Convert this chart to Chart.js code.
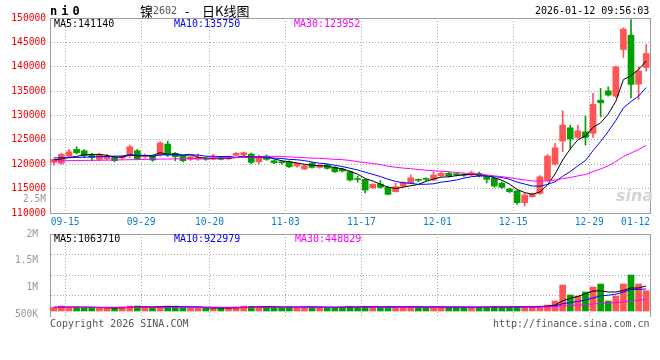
<!DOCTYPE html>
<html><head><meta charset="utf-8">
<script src="https://cdn.jsdelivr.net/npm/chart.js"></script>
<style>
html,body{margin:0;padding:0;background:#fff;}
#wrap{position:relative;width:660px;height:360px;overflow:hidden;background:#fff;font-family:'DejaVu Sans Mono',monospace;font-size:10px;}
canvas{position:absolute;left:0;}
#cp{top:0;}
#cv{top:222px;}
.t{position:absolute;white-space:pre;line-height:12px;}
</style></head>
<body><div id="wrap">
<canvas id="cp" width="660" height="232"></canvas>
<canvas id="cv" width="660" height="138"></canvas>
<div class="t" style="left:50px;top:5px;font-weight:bold;font-size:12px;line-height:13px;letter-spacing:4px;color:#000">ni0</div>
<div class="t" style="left:140px;top:3px;font-family:'Noto Sans CJK SC';font-size:13px;line-height:15px;color:#000">镍</div>
<div class="t" style="left:153px;top:5px;color:#555">2602</div>
<div class="t" style="left:185px;top:3px;font-family:'Noto Sans CJK SC';font-size:13px;line-height:15px;color:#000">-</div>
<div class="t" style="left:202px;top:3px;font-family:'Noto Sans CJK SC';font-size:13px;line-height:15px;color:#000">日K线图</div>
<div class="t" style="left:535px;top:5px;color:#000">2026-01-12 09:56:03</div>
<div class="t" style="left:54px;top:18px;color:#000">MA5:141140</div>
<div class="t" style="left:174px;top:18px;color:#0000ff">MA10:135750</div>
<div class="t" style="left:294px;top:18px;color:#ff00ff">MA30:123952</div>
<div class="t" style="left:54px;top:233px;color:#000">MA5:1063710</div>
<div class="t" style="left:174px;top:233px;color:#0000ff">MA10:922979</div>
<div class="t" style="left:295px;top:233px;color:#ff00ff">MA30:448829</div>
<div class="t" style="left:50px;top:318px;color:#555">Copyright 2026 SINA.COM</div>
<div class="t" style="left:493px;top:318px;color:#555">http://finance.sina.com.cn</div>
<div class="t" style="left:616px;top:187px;font-family:'DejaVu Sans';font-style:italic;font-weight:bold;font-size:16px;line-height:18px;color:#d4d4d4">sina</div>
</div>
<script>
const DATES = ['09-12','09-15','09-16','09-17','09-18','09-19','09-22','09-23','09-24','09-25','09-26','09-29','09-30',
'10-09','10-10','10-13','10-14','10-15','10-16','10-17','10-20','10-21','10-22','10-23','10-24','10-27','10-28','10-29','10-30','10-31',
'11-03','11-04','11-05','11-06','11-07','11-10','11-11','11-12','11-13','11-14','11-17','11-18','11-19','11-20','11-21','11-24','11-25','11-26','11-27','11-28',
'12-01','12-02','12-03','12-04','12-05','12-08','12-09','12-10','12-11','12-12','12-15','12-16','12-17','12-18','12-19','12-22','12-23','12-24','12-25','12-26','12-29','12-30','12-31',
'01-05','01-06','01-07','01-08','01-09','01-12'];

const OPEN = [120390,120180,121680,123050,122770,121880,121000,121130,121410,121270,
121740,122770,121540,121680,121880,124140,122230,121680,121000,121000,
121270,121000,121300,121100,121820,121950,122090,120510,121680,120720,
120350,120510,119630,119020,120180,119360,119840,119360,119020,118460,
116960,116900,115180,115940,115270,114360,115530,116210,116800,117000,
116760,117640,118130,117950,117800,117790,118130,117440,117110,116090,
114920,114510,112110,113340,114040,116760,120040,124750,127480,125510,
126660,126330,133150,135060,133970,143540,146470,136430,139850];
const HIGH = [121100,122300,123050,123600,123050,122230,122300,122030,121700,121700,
123930,123050,122100,121900,124600,124750,122400,121900,121700,122090,
121400,122030,121500,121600,122400,122500,122300,121880,121900,120900,
120700,120700,120300,119900,120400,119900,120000,119500,119200,118600,
117600,117000,116000,116660,115400,116090,116400,117850,117000,117200,
118460,118400,118400,118200,118100,118600,118400,117600,117300,116400,
115100,114600,114040,114100,117700,122000,124280,130960,128030,128030,
129880,134530,135550,135880,140200,148000,149690,139980,144570];
const LOW = [119840,119980,121400,122090,121400,120720,120700,120900,120500,121000,
121400,120900,121300,120600,121700,121600,120700,120500,120800,120800,
120800,120900,120900,120900,121700,121800,120100,120000,120800,120100,
120000,119300,119400,118900,119200,119200,119000,118300,118400,116600,
116300,114100,115000,115100,113700,114300,115300,116000,116400,116700,
116600,117500,117400,117600,117500,117600,117400,116150,115300,115000,
114200,111780,111430,113200,113800,116500,119800,122560,123050,125310,
123930,125510,129730,133970,133700,141900,133630,133300,139100];
const CLOSE = [121000,122030,122560,122360,121740,121410,122030,121540,120720,121540,
123590,121130,121880,120860,124400,121880,121540,120720,121540,121410,
121000,121340,121000,121400,122230,122360,120390,121540,121000,120310,
120300,119490,120180,119690,119360,119770,119160,118460,118610,116760,
116860,114710,115880,115270,113830,115390,116210,117230,116700,116900,
117790,118130,117640,117850,117750,118260,117640,116900,115530,115270,
114360,112110,113690,113830,117440,121680,123380,128030,125160,126860,
125510,132330,132600,134180,139980,147700,136370,139100,142720];

const MA5 = [120860,121100,121400,121600,121940,122020,122020,121820,121490,121450,
121880,121700,121770,121800,122370,122030,122110,121880,122020,121420,
121240,121200,121260,121230,121390,121670,121480,121580,121500,121120,
120710,120530,120260,119990,119800,119700,119630,119290,119070,118550,
117970,117080,116560,115900,115310,115020,115320,115590,115870,116490,
116970,117350,117430,117660,117830,117930,117830,117680,117220,116720,
115940,114830,114190,113850,114290,115750,118000,120870,123140,125020,
125790,127580,128490,130300,132920,137360,138170,139470,141170];
const MA10 = [121300,121320,121350,121400,121450,121500,121550,121600,121650,121690,
121950,121860,121790,121640,121910,121960,121910,121830,121910,121900,
121640,121660,121570,121620,121410,121450,121340,121420,121370,121260,
121190,121000,120920,120750,120460,120200,120080,119770,119530,119180,
118830,118360,117930,117480,116930,116490,116200,116080,115880,115900,
115990,116330,116510,116770,117160,117450,117590,117560,117440,117280,
116930,116330,115940,115530,115500,115850,116420,117530,118500,119660,
120770,122790,124680,126720,128970,131570,132870,133980,135740];
const MA30 = [120700,120720,120740,120760,120780,120800,120820,120850,120880,120900,
120930,120960,120990,121020,121050,121080,121110,121140,121170,121200,
121230,121260,121290,121320,121350,121400,121450,121500,121560,121620,
121590,121510,121430,121340,121260,121210,121110,121010,120940,120780,
120550,120340,120140,119950,119600,119380,119210,119090,118930,118780,
118670,118560,118450,118330,118180,118050,117960,117800,117620,117450,
117250,117010,116790,116600,116530,116600,116740,117050,117270,117610,
117900,118490,119040,119670,120550,121620,122290,123020,123890];

const VOLUME = [150000,210000,170000,170000,130000,130000,140000,120000,120000,170000,
210000,210000,170000,130000,190000,210000,210000,130000,130000,130000,
120000,130000,130000,120000,170000,210000,200000,180000,170000,150000,
150000,170000,160000,170000,170000,160000,130000,160000,170000,200000,
170000,190000,170000,160000,190000,170000,170000,180000,160000,160000,
170000,170000,160000,160000,160000,160000,160000,170000,200000,170000,
170000,200000,190000,170000,212000,255000,425000,1104000,679000,637000,
807000,1019000,1146000,425000,637000,1146000,1528000,1146000,862000];
const VOL_MA5 = [160000,160000,165000,165000,166000,162000,148000,138000,128000,136000,
152000,166000,176000,178000,182000,182000,182000,174000,174000,162000,
144000,128000,128000,126000,134000,152000,166000,176000,186000,182000,
170000,164000,160000,160000,164000,166000,158000,158000,158000,164000,
166000,178000,180000,178000,176000,176000,172000,174000,174000,168000,
168000,168000,164000,164000,164000,162000,160000,162000,170000,172000,
174000,182000,186000,180000,188000,205000,250000,433000,535000,620000,
730000,849000,858000,807000,807000,875000,976000,976000,1064000];
const VOL_MA10 = [155000,155000,155000,155000,155000,155000,155000,155000,155000,151000,
157000,157000,157000,153000,159000,167000,174000,175000,176000,172000,
163000,155000,151000,150000,148000,148000,147000,152000,156000,158000,
161000,165000,168000,173000,173000,168000,161000,159000,159000,164000,
166000,168000,169000,168000,170000,171000,175000,177000,176000,172000,
172000,170000,169000,169000,166000,165000,164000,163000,167000,168000,
168000,171000,174000,175000,180000,190000,216000,310000,358000,404000,
468000,550000,645000,671000,713000,803000,913000,917000,935000];
const VOL_MA30 = [155000,155000,155000,155000,155000,155000,155000,155000,156000,156000,
156000,156000,157000,157000,157000,157000,158000,158000,158000,158000,
158000,158000,159000,159000,159000,159000,159000,160000,160000,160000,
160000,159000,159000,159000,160000,161000,161000,162000,164000,165000,
163000,163000,163000,164000,164000,162000,161000,163000,164000,165000,
166000,168000,169000,170000,170000,168000,167000,166000,167000,168000,
169000,170000,171000,171000,172000,175000,185000,217000,234000,248000,
269000,297000,329000,338000,353000,386000,431000,463000,487000];

const PRICE_TICKS = [110000,115000,120000,125000,130000,135000,140000,145000,150000];
const X_TICK_LABELS = ['09-15','09-29','10-20','11-03','11-17','12-01','12-15','12-29','01-12'];
const VOL_TICK_VALUES = [500000,1000000,1500000,2000000,2500000];
const VOL_TICK_LABELS = ['500K','1M','1.5M','2M','2.5M'];

Chart.defaults.font.family = "'DejaVu Sans Mono', monospace";
Chart.defaults.font.size = 10;
Chart.defaults.animation = false;

const RED = '#ff5555', GREEN = '#00a000';
const GRID = '#a8a8a8', AXIS = '#9c9c9c';
const TICK_FONT = {family: "'DejaVu Sans Mono', monospace", size: 9.6};
const barColor = OPEN.map((o, i) => CLOSE[i] >= o ? RED : GREEN);
const X_MIN = -0.5, X_MAX = DATES.length - 0.5;
const xTickValues = [X_MIN].concat(X_TICK_LABELS.map(l => DATES.indexOf(l) + 0.5));

function gridColor(ctx) {
  if (!ctx.tick) return GRID;
  const s = ctx.scale, v = ctx.tick.value;
  return (Math.abs(v - s.min) < 1e-6 || Math.abs(v - s.max) < 1e-6) ? 'rgba(0,0,0,0)' : GRID;
}
function xLabel(v) {
  const i = xTickValues.indexOf(v);
  return i > 0 ? X_TICK_LABELS[i - 1] : '';
}
function volLabel(v) {
  const i = VOL_TICK_VALUES.indexOf(v);
  return i >= 0 ? VOL_TICK_LABELS[i] : '';
}
function volTicksInRange(s) {
  s.ticks = VOL_TICK_VALUES.filter(v => v >= s.min && v <= s.max).map(v => ({value: v}));
}
const pts = arr => arr.map((v, i) => ({x: i, y: v}));
const line = (arr, color, order) => ({type: 'line', data: pts(arr), borderColor: color, borderWidth: 1,
  pointRadius: 0, tension: 0, fill: false, order: order, xAxisID: 'x', yAxisID: 'y'});

const xAxis = (showLabels) => ({
  type: 'linear', position: 'bottom', min: X_MIN, max: X_MAX, offset: false,
  grid: {offset: false, color: gridColor, drawTicks: false, lineWidth: 1},
  border: {display: showLabels, color: AXIS, dash: [1, 2]},
  ticks: {display: showLabels, autoSkip: false, align: 'inner', padding: 4, maxRotation: 0,
    color: '#0a7fd0', font: TICK_FONT, callback: xLabel},
  afterBuildTicks: s => { s.ticks = xTickValues.map(v => ({value: v})); },
  afterFit: s => { s.height = showLabels ? 19 : 0; }
});
const topBorder = {type: 'linear', position: 'top', min: X_MIN, max: X_MAX, grid: {display: false},
  ticks: {display: false}, border: {color: AXIS}, afterFit: s => { s.height = 0; }};
const rightBorder = {type: 'linear', position: 'right', min: 0, max: 1, grid: {display: false},
  ticks: {display: false}, border: {color: AXIS}, afterFit: s => { s.width = 0; }};

new Chart(document.getElementById('cp'), {
  type: 'bar',
  data: {datasets: [
    {type: 'bar', data: LOW.map((l, i) => ({x: i, y: [l, HIGH[i]]})), backgroundColor: barColor,
      barThickness: 1, grouped: false, order: 5, xAxisID: 'x', yAxisID: 'y'},
    {type: 'bar', data: OPEN.map((o, i) => ({x: i, y: [o, CLOSE[i]]})), backgroundColor: barColor,
      barThickness: 6, minBarLength: 1, grouped: false, order: 4, xAxisID: 'x', yAxisID: 'y'},
    line(MA5, '#000000', 3), line(MA10, '#0000ff', 2), line(MA30, '#ff00ff', 1)
  ]},
  options: {
    responsive: false, maintainAspectRatio: false, animation: false, events: [],
    layout: {padding: {top: 18, right: 10, bottom: 0, left: 0}},
    plugins: {legend: {display: false}, tooltip: {enabled: false}},
    scales: {
      x: xAxis(true),
      xT: topBorder,
      y: {type: 'linear', position: 'left', weight: 10, min: 110000, max: 150000, beginAtZero: false,
        grid: {color: gridColor, drawTicks: false}, border: {color: AXIS, dash: [1, 2]},
        ticks: {color: '#ff0000', padding: 4, font: TICK_FONT, callback: v => String(v)},
        afterBuildTicks: s => { s.ticks = PRICE_TICKS.map(v => ({value: v})); },
        afterFit: s => { s.width = 50; }},
      // volume-scale label that Sina prints inside the price panel's axis column
      yv: {type: 'linear', position: 'left', weight: 0, min: 2260000, max: 5858000,
        grid: {display: false}, border: {display: false},
        ticks: {color: '#999999', mirror: true, crossAlign: 'near', padding: -27, font: TICK_FONT, callback: volLabel},
        afterBuildTicks: volTicksInRange, afterFit: s => { s.width = 0; }},
      yR: rightBorder
    }
  }
});

const VOL_MIN = -212000, VOL_MAX = 3270000;
new Chart(document.getElementById('cv'), {
  type: 'bar',
  data: {datasets: [
    {type: 'bar', data: pts(VOLUME), backgroundColor: barColor, barThickness: 6, grouped: false,
      order: 4, xAxisID: 'x', yAxisID: 'y'},
    line(VOL_MA5, '#000000', 3), line(VOL_MA10, '#0000ff', 2), line(VOL_MA30, '#ff00ff', 1)
  ]},
  options: {
    responsive: false, maintainAspectRatio: false, animation: false, events: [],
    layout: {padding: {top: 12, right: 10, bottom: 44, left: 0}},
    plugins: {legend: {display: false}, tooltip: {enabled: false}},
    scales: {
      x: xAxis(false),
      xT: topBorder,
      y: {type: 'linear', position: 'left', weight: 0, min: VOL_MIN, max: VOL_MAX, beginAtZero: false,
        grid: {color: gridColor, drawTicks: false}, border: {color: AXIS, dash: [1, 2]},
        ticks: {display: false},
        afterBuildTicks: s => { s.ticks = [0, 1, 2, 3, 4].map(k => ({value: s.min + k * (s.max - s.min) / 4})); },
        afterFit: s => { s.width = 0; }},
      yl: {type: 'linear', position: 'left', weight: 10, min: 480000, max: 2000000,
        grid: {display: false}, border: {display: false},
        ticks: {color: '#999999', padding: 4, font: TICK_FONT, callback: volLabel},
        afterBuildTicks: volTicksInRange, afterFit: s => { s.width = 50; }},
      yR: rightBorder
    }
  }
});
</script>
</body></html>
